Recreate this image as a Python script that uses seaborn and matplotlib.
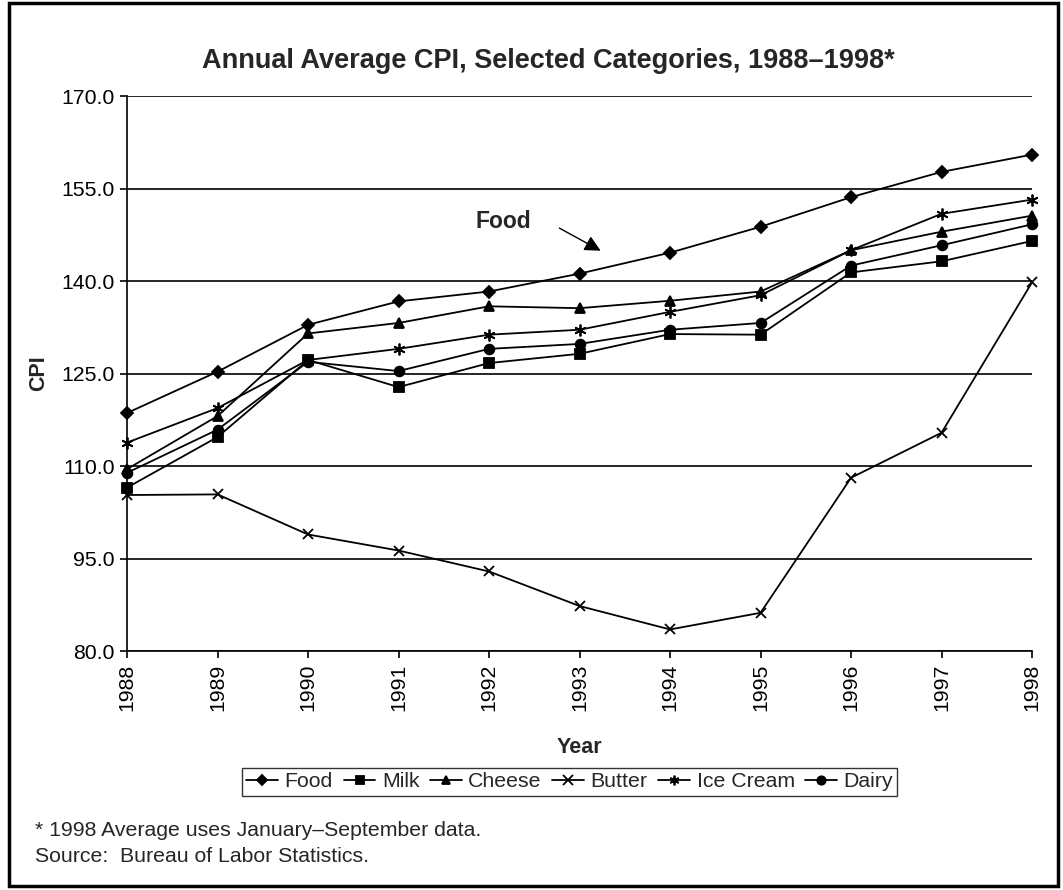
import numpy as np
import pandas as pd
import matplotlib.pyplot as plt
import seaborn as sns
from matplotlib.patches import Rectangle

years = list(range(1988, 1999))
food = [118.6, 125.3, 132.9, 136.7, 138.3, 141.2, 144.6, 148.8, 153.6, 157.7, 160.5]
milk = [106.5, 114.7, 127.2, 122.8, 126.7, 128.2, 131.4, 131.3, 141.4, 143.2, 146.5]
cheese = [109.5, 118.1, 131.5, 133.2, 135.9, 135.6, 136.8, 138.3, 145.0, 148.0, 150.6]
butter = [105.3, 105.4, 98.9, 96.3, 92.9, 87.3, 83.5, 86.2, 108.1, 115.4, 139.8]
ice_cream = [113.8, 119.4, 127.2, 129.0, 131.3, 132.1, 135.0, 137.7, 145.0, 150.9, 153.2]
dairy = [108.9, 115.9, 126.9, 125.4, 129.0, 129.8, 132.1, 133.2, 142.5, 145.8, 149.2]

series_names = ['Food', 'Milk', 'Cheese', 'Butter', 'Ice Cream', 'Dairy']
y_ticks = [80, 95, 110, 125, 140, 155, 170]

# annotation position for the "Food" callout
food_label_xy = (1992.16, 149.6)
food_arrow_from = (1992.75, 148.8)
food_arrow_to = (1993.26, 144.7)

df = pd.DataFrame({
    'Year': years * 6,
    'CPI': food + milk + cheese + butter + ice_cream + dairy,
    'Series': np.repeat(series_names, len(years)),
})

sns.set_theme(style='white')
plt.rcParams['font.family'] = ['Liberation Sans', 'DejaVu Sans']

marker_map = {'Food': 'D', 'Milk': 's', 'Cheese': '^', 'Butter': 'x',
              'Ice Cream': (6, 2, 0), 'Dairy': 'o'}
size_map = {'Food': 5.8, 'Milk': 7, 'Cheese': 7, 'Butter': 7.5,
            'Ice Cream': 8.5, 'Dairy': 7}
leg_size = {'Food': 5, 'Milk': 6, 'Cheese': 6, 'Butter': 6.5,
            'Ice Cream': 7, 'Dairy': 6}

fs = 15.3

fig = plt.figure(figsize=(10.63, 8.9), dpi=100)
ax = fig.add_axes([0.1195, 0.2685, 0.8514, 0.6236])

# seaborn won't mix filled and line-art markers in one call, so one line per series
for name in series_names:
    sub = df[df['Series'] == name]
    sns.lineplot(data=sub, x='Year', y='CPI', label=name, color='black',
                 marker=marker_map[name], markersize=size_map[name],
                 markeredgecolor='black', markerfacecolor='black',
                 markeredgewidth=1.3, linewidth=1.3, ax=ax)

for ln in ax.lines:
    ln.set_clip_on(False)
    ln.set_zorder(3)

ax.set_xlim(1988, 1998)
ax.set_ylim(80, 170)
ax.set_xticks(years)
ax.set_xticklabels([str(y) for y in years], rotation=90, fontsize=fs)
ax.set_yticks(y_ticks)
ax.set_yticklabels([f'{v:.1f}' for v in y_ticks], fontsize=fs)
ax.yaxis.grid(True, color='black', linewidth=1.2)
ax.xaxis.grid(False)
ax.set_axisbelow(True)
for s in ['top', 'right']:
    ax.spines[s].set_visible(False)
for s in ['left', 'bottom']:
    ax.spines[s].set_color('black')
    ax.spines[s].set_linewidth(1.2)
ax.tick_params(axis='both', direction='out', length=5, width=1.2,
               color='black', labelcolor='black', left=True, bottom=True, pad=4)

ax.set_xlabel('Year', fontsize=15.5, fontweight='bold', labelpad=19)
ax.set_ylabel('CPI', fontsize=15.5, fontweight='bold', labelpad=8.5)
ax.set_title('Annual Average CPI, Selected Categories, 1988\u20131998*',
             fontsize=19.5, fontweight='bold', pad=20, x=0.466)

ax.text(*food_label_xy, 'Food', fontsize=16.5, fontweight='bold',
        ha='center', va='center')
ax.annotate('', xy=food_arrow_to, xytext=food_arrow_from,
            arrowprops=dict(arrowstyle='-|>', color='black', lw=1,
                            mutation_scale=24))

handles, labels = ax.get_legend_handles_labels()
ax.get_legend().remove()
leg = fig.legend(handles, labels, loc='center', bbox_to_anchor=(0.536, 0.1215),
                 ncol=6, frameon=True, fancybox=False, edgecolor='black',
                 fontsize=fs, handlelength=1.5, handletextpad=0.3,
                 columnspacing=0.5, borderpad=0.2, borderaxespad=0)
leg.get_frame().set_linewidth(1.0)
for h, name in zip(leg.legend_handles, labels):
    h.set_markersize(leg_size[name])

fig.text(0.033, 0.0674, '* 1998 Average uses January\u2013September data.',
         fontsize=fs, va='center')
fig.text(0.033, 0.0371, 'Source:  Bureau of Labor Statistics.',
         fontsize=fs, va='center')

fig.patches.append(Rectangle((0.0085, 0.004), 0.987, 0.993,
                             transform=fig.transFigure, fill=False,
                             lw=2.5, ec='black'))

fig.savefig('out.png', dpi=100)
